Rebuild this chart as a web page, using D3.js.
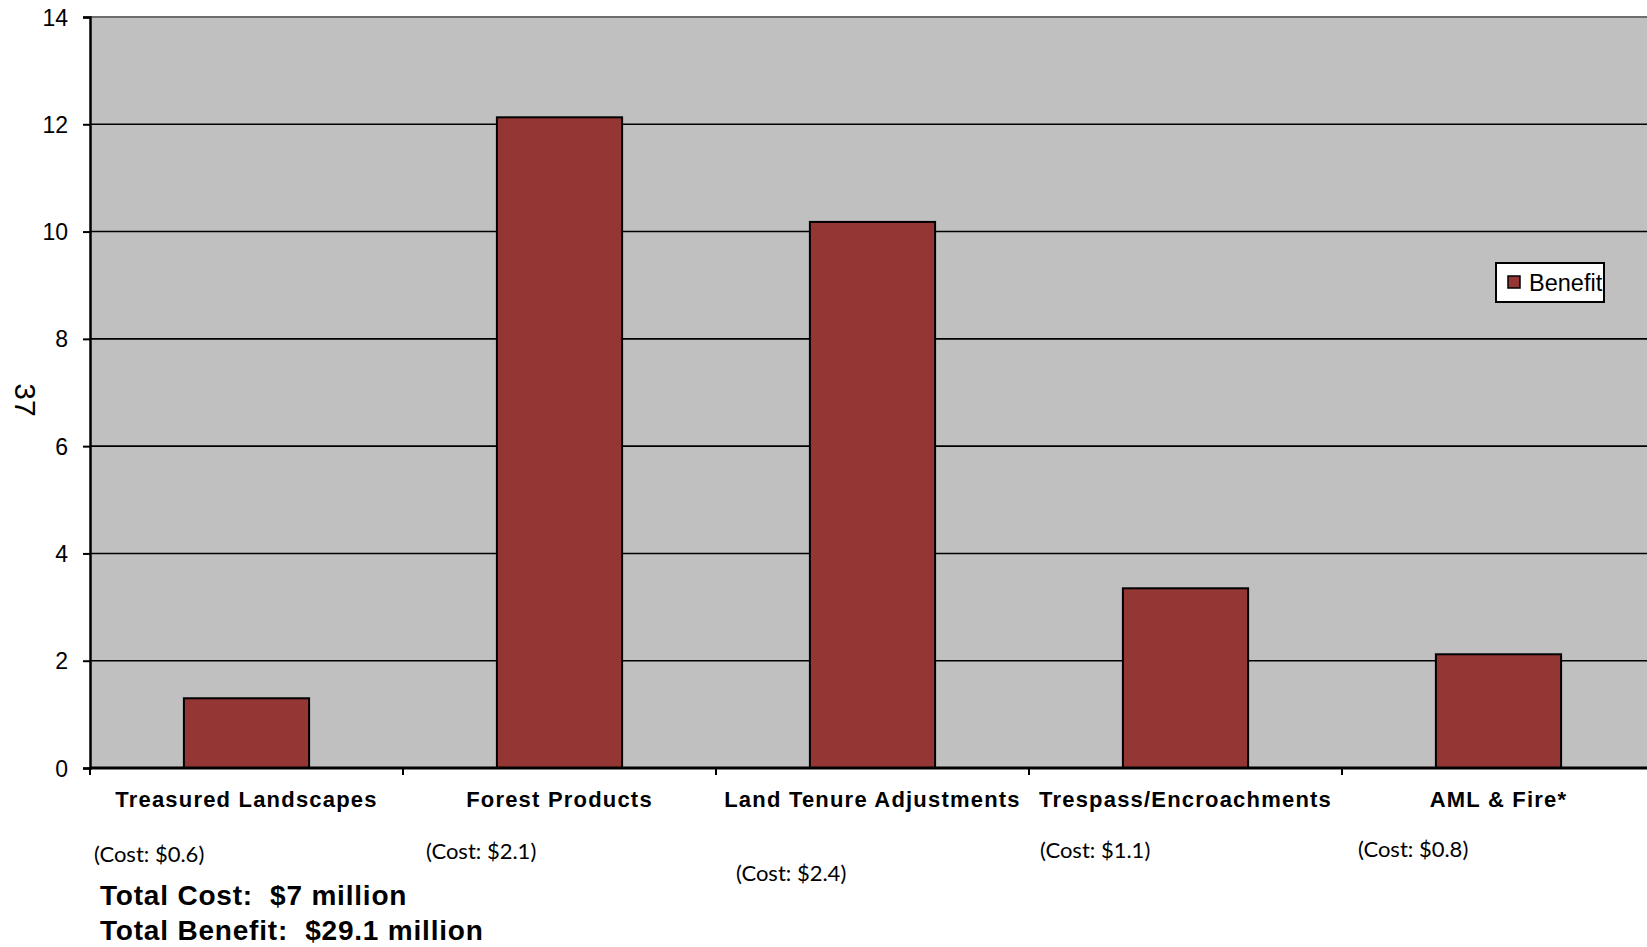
<!DOCTYPE html>
<html>
<head>
<meta charset="utf-8">
<script src="https://cdn.jsdelivr.net/npm/d3@7"></script>
<style>
  html, body { margin: 0; padding: 0; background: #fff; }
  svg { display: block; }
  text { white-space: pre; }
  .tick-label { font-family: "Liberation Sans", Arial, sans-serif; font-size: 23px; fill: #000; }
  .cat-label { font-family: "Liberation Sans", Arial, sans-serif; font-size: 22px; font-weight: bold; letter-spacing: 1.2px; fill: #000; }
  .cost-label { font-family: Lato, "Open Sans", sans-serif; font-size: 22px; fill: #000; }
  .total-label { font-family: "Liberation Sans", Arial, sans-serif; font-size: 28px; font-weight: bold; letter-spacing: 0.8px; fill: #000; }
</style>
</head>
<body>
<div id="chart"></div>
<script>
// Benefit by program (millions of dollars)
const categories = ["Treasured Landscapes", "Forest Products", "Land Tenure Adjustments", "Trespass/Encroachments", "AML & Fire*"];
const benefit = [1.3, 12.13, 10.18, 3.35, 2.12];
const costLabels = ["(Cost: $0.6)", "(Cost: $2.1)", "(Cost: $2.4)", "(Cost: $1.1)", "(Cost: $0.8)"];
const yTicks = [0, 2, 4, 6, 8, 10, 12, 14];
const totals = ["Total Cost:  $7 million", "Total Benefit:  $29.1 million"];
const legendLabel = "Benefit";
const pageNumber = "37";

// placement of the cost notes under each category (offset from category start, baseline)
const costLayout = [[5, 862], [24, 859], [21, 881], [12, 858], [17, 857]];

const W = 1647, H = 947;
const plot = { left: 90, top: 17, bottom: 768, step: 313 };
const plotRight = plot.left + plot.step * categories.length;

const svg = d3.select("#chart").append("svg")
  .attr("width", W)
  .attr("height", H);

const y = d3.scaleLinear().domain([0, 14]).range([plot.bottom, plot.top]);
const xCat = d3.scaleBand().domain(categories).range([plot.left, plotRight]).padding(0);
const x = d3.scaleBand().domain(categories).range([plot.left, plotRight])
  .paddingInner(0.6).paddingOuter(0.3);

// plot background
svg.append("rect")
  .attr("x", plot.left).attr("y", plot.top)
  .attr("width", plotRight - plot.left).attr("height", plot.bottom - plot.top)
  .attr("fill", "#c0c0c0");

// top border
svg.append("line")
  .attr("x1", plot.left).attr("x2", plotRight)
  .attr("y1", plot.top).attr("y2", plot.top)
  .attr("stroke", "#6e6e6e").attr("stroke-width", 2);

// gridlines
svg.selectAll(".grid")
  .data(yTicks.filter(d => d > 0 && d < 14))
  .enter().append("line")
  .attr("class", "grid")
  .attr("x1", plot.left).attr("x2", plotRight)
  .attr("y1", d => y(d)).attr("y2", d => y(d))
  .attr("stroke", "#000").attr("stroke-width", 1.6);

// bars
svg.selectAll(".bar")
  .data(categories)
  .enter().append("rect")
  .attr("class", "bar")
  .attr("x", d => x(d))
  .attr("y", (d, i) => y(benefit[i]))
  .attr("width", x.bandwidth())
  .attr("height", (d, i) => y(0) - y(benefit[i]))
  .attr("fill", "#943634")
  .attr("stroke", "#000")
  .attr("stroke-width", 2);

// y axis
const yAxis = svg.append("g")
  .attr("transform", `translate(${plot.left},0)`)
  .call(d3.axisLeft(y).tickValues(yTicks).tickSize(7).tickPadding(15).tickFormat(d3.format("d")));
yAxis.select(".domain").attr("stroke", "#000").attr("stroke-width", 2.5);
yAxis.selectAll(".tick line").attr("stroke", "#000").attr("stroke-width", 2);
yAxis.selectAll(".tick text").attr("class", "tick-label").attr("dy", "0.35em");
yAxis.attr("font-family", null).attr("font-size", null);

// x axis baseline with category boundary ticks
svg.append("line")
  .attr("x1", plot.left).attr("x2", plotRight)
  .attr("y1", plot.bottom).attr("y2", plot.bottom)
  .attr("stroke", "#000").attr("stroke-width", 3);

const boundaries = categories.map(c => xCat(c)).concat([plotRight]);
svg.selectAll(".xtick")
  .data(boundaries)
  .enter().append("line")
  .attr("class", "xtick")
  .attr("x1", d => d).attr("x2", d => d)
  .attr("y1", plot.bottom).attr("y2", plot.bottom + 7)
  .attr("stroke", "#000").attr("stroke-width", 2);

// category labels
svg.selectAll(".cat-label")
  .data(categories)
  .enter().append("text")
  .attr("class", "cat-label")
  .attr("x", d => xCat(d) + xCat.bandwidth() / 2)
  .attr("y", 807)
  .attr("text-anchor", "middle")
  .text(d => d);

// cost notes
svg.selectAll(".cost-label")
  .data(costLabels)
  .enter().append("text")
  .attr("class", "cost-label")
  .attr("x", (d, i) => xCat(categories[i]) + costLayout[i][0] - 1)
  .attr("y", (d, i) => costLayout[i][1])
  .text(d => d);

// totals
svg.selectAll(".total-label")
  .data(totals)
  .enter().append("text")
  .attr("class", "total-label")
  .attr("x", 100)
  .attr("y", (d, i) => 905 + i * 35)
  .text(d => d);

// legend (text clipped by its box, as in the original)
const legend = svg.append("g").attr("transform", "translate(1496,263)");
legend.append("clipPath").attr("id", "legclip")
  .append("rect").attr("width", 108).attr("height", 39);
legend.append("rect")
  .attr("width", 108).attr("height", 39)
  .attr("fill", "#fff").attr("stroke", "#000").attr("stroke-width", 2);
legend.append("rect")
  .attr("x", 12).attr("y", 13).attr("width", 12).attr("height", 12)
  .attr("fill", "#943634").attr("stroke", "#000").attr("stroke-width", 1.5);
legend.append("text")
  .attr("clip-path", "url(#legclip)")
  .attr("x", 33).attr("y", 28)
  .attr("font-family", "Liberation Sans, Arial, sans-serif")
  .attr("font-size", 23.5)
  .text(legendLabel);

// rotated page number at left
svg.append("text")
  .attr("transform", "translate(25,400) rotate(90)")
  .attr("text-anchor", "middle")
  .attr("dy", "0.35em")
  .attr("font-family", "Liberation Sans, Arial, sans-serif")
  .attr("font-size", 30)
  .text(pageNumber);
</script>
</body>
</html>
